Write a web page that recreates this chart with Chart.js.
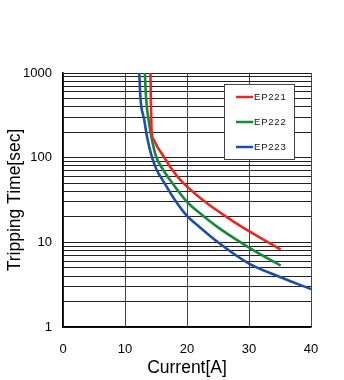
<!DOCTYPE html>
<html>
<head>
<meta charset="utf-8">
<script src="https://cdn.jsdelivr.net/npm/chart.js@4.4.1/dist/chart.umd.min.js"></script>
<style>
  html, body { margin: 0; padding: 0; background: #fff; }
  #wrap { width: 344px; height: 380px; }
</style>
</head>
<body>
<div id="wrap"><canvas id="trip-chart"></canvas></div>
<script>
// tripping curves (current in A, time in sec)
const seriesNames = ['EP221', 'EP222', 'EP223'];
const seriesColors = ['#e8281f', '#17873b', '#1c4ea6'];

const ep221Current = [14.1, 14.3, 14.6, 15.2, 16.2, 17.5, 19.0, 22.6, 27.2, 30.2, 35.1];
const ep221Time    = [1000, 200, 165, 135, 104, 74, 54, 31.4, 18.2, 13.3, 8.2];

const ep222Current = [13.2, 13.4, 13.8, 14.3, 15.0, 16.0, 17.3, 20.0, 22.1, 25.0, 30.2, 35.1];
const ep222Time    = [1000, 500, 280, 170, 104, 75, 54, 30, 22, 15, 8.5, 5.3];

const ep223Current = [12.3, 12.5, 13.1, 13.6, 14.3, 15.1, 16.1, 18.0, 20.0, 22.1, 25.0, 30.0, 35.0, 40.0];
const ep223Time    = [1000, 500, 280, 170, 104, 72, 54, 32, 20.5, 15, 10, 5.6, 3.9, 2.8];

const xTicks = [0, 10, 20, 30, 40];
const yLabels = [1, 10, 100, 1000];

// log grid: 1..9 in every decade
const yGrid = [];
for (let d = 1; d < 1000; d *= 10) {
  for (let k = 1; k < 10; k++) yGrid.push(k * d);
}
yGrid.push(1000);

const toPoints = (xs, ys) => xs.map((x, i) => ({ x: x, y: ys[i] }));
const allSeries = [
  toPoints(ep221Current, ep221Time),
  toPoints(ep222Current, ep222Time),
  toPoints(ep223Current, ep223Time)
];

// legend drawn as a boxed key inside the plot
const legendBox = {
  id: 'legendBox',
  afterDatasetsDraw(chart) {
    const ctx = chart.ctx;
    const area = chart.chartArea;
    const bx = area.right - 87, by = area.top + 11, bw = 70, bh = 75;
    ctx.save();
    ctx.fillStyle = '#fff';
    ctx.fillRect(bx, by, bw, bh);
    ctx.strokeStyle = '#444';
    ctx.lineWidth = 1;
    ctx.strokeRect(bx + 0.5, by + 0.5, bw, bh);
    ctx.font = '9.5px "Liberation Sans", Arial, sans-serif';
    ctx.letterSpacing = '0.8px';
    ctx.textBaseline = 'middle';
    chart.data.datasets.forEach((ds, i) => {
      const ly = by + 13 + i * 25;
      ctx.strokeStyle = ds.borderColor;
      ctx.lineWidth = 2.5;
      ctx.beginPath();
      ctx.moveTo(bx + 12, ly);
      ctx.lineTo(bx + 29, ly);
      ctx.stroke();
      ctx.fillStyle = '#111';
      ctx.fillText(ds.label, bx + 30, ly + 0.5);
    });
    ctx.restore();
  }
};

new Chart(document.getElementById('trip-chart'), {
  type: 'line',
  data: {
    datasets: allSeries.map((pts, i) => ({
      label: seriesNames[i],
      data: pts,
      borderColor: seriesColors[i],
      backgroundColor: seriesColors[i],
      borderWidth: 2.6,
      pointRadius: 0,
      cubicInterpolationMode: 'monotone',
      fill: false
    }))
  },
  options: {
    responsive: true,
    maintainAspectRatio: false,
    animation: false,
    layout: { padding: { top: 73, right: 33, left: 0, bottom: 0 } },
    plugins: {
      legend: { display: false },
      tooltip: { enabled: false }
    },
    scales: {
      x: {
        type: 'linear',
        min: 0,
        max: 40,
        afterFit: s => { s.height = 53; },
        afterBuildTicks: s => { s.ticks = xTicks.map(v => ({ value: v })); },
        grid: { color: '#444', lineWidth: 1, drawTicks: false },
        border: { color: '#000', width: 1.5 },
        ticks: {
          padding: 15,
          color: '#000',
          font: { family: '"Liberation Sans", Arial, sans-serif', size: 13 }
        },
        title: {
          display: true,
          text: 'Current[A]',
          color: '#000',
          font: { family: '"Liberation Sans", Arial, sans-serif', size: 17.5, lineHeight: 1 },
          padding: { top: 0, bottom: 3 }
        }
      },
      y: {
        type: 'logarithmic',
        min: 1,
        max: 1000,
        afterFit: s => { s.width = 63; },
        afterBuildTicks: s => { s.ticks = yGrid.map(v => ({ value: v })); },
        grid: { color: '#222', lineWidth: 1, drawTicks: false },
        border: { color: '#000', width: 1.5 },
        ticks: {
          autoSkip: false,
          padding: 11,
          color: '#000',
          font: { family: '"Liberation Sans", Arial, sans-serif', size: 13 },
          callback: v => yLabels.includes(v) ? String(v) : ''
        },
        title: {
          display: true,
          text: 'Tripping Time[sec]',
          color: '#000',
          font: { family: '"Liberation Sans", Arial, sans-serif', size: 17.5, lineHeight: 1 },
          padding: { top: 6, bottom: 0 }
        }
      }
    }
  },
  plugins: [legendBox]
});
</script>
</body>
</html>
